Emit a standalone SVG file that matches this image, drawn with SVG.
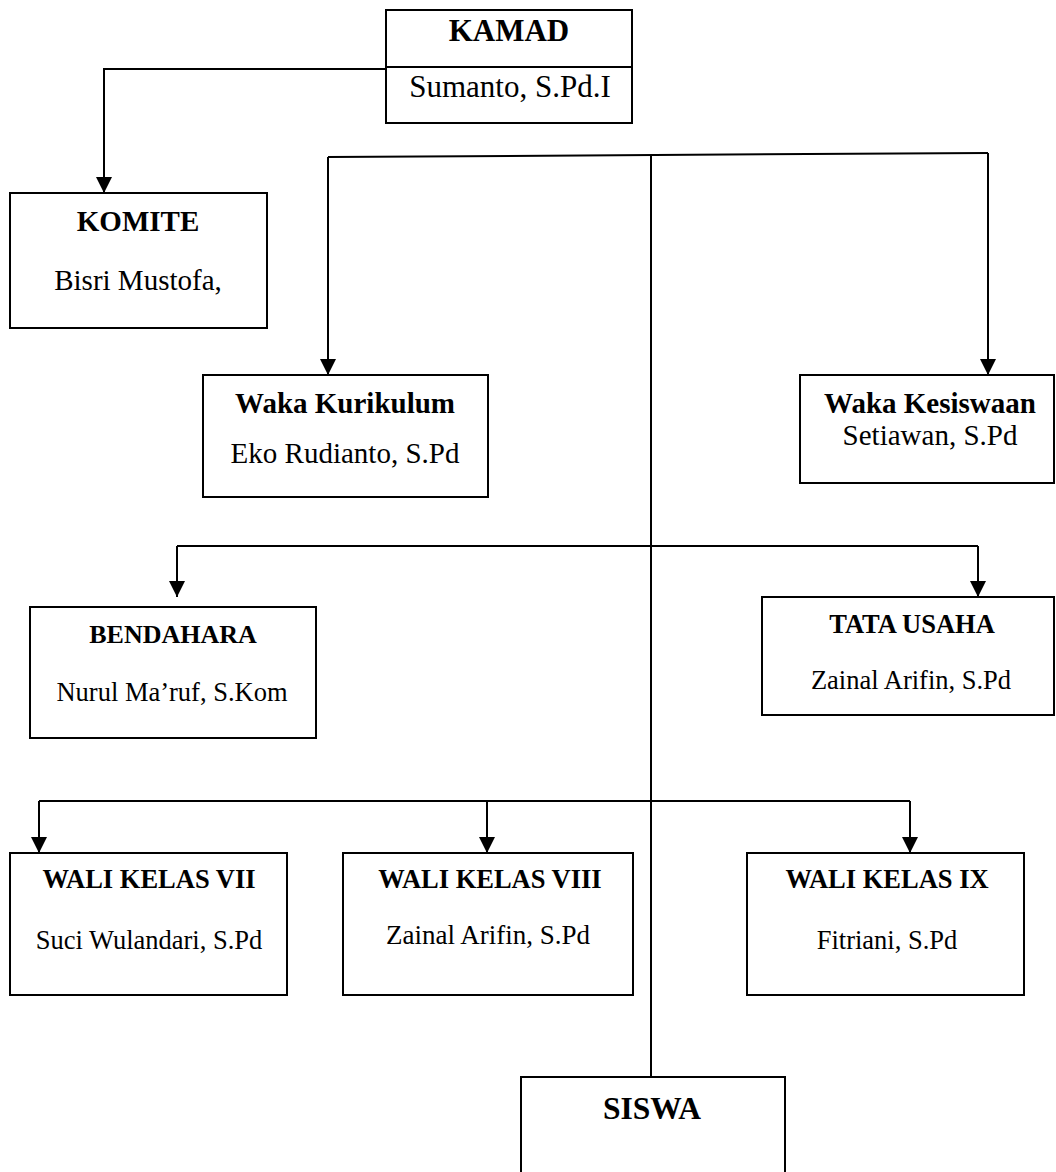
<svg xmlns="http://www.w3.org/2000/svg" width="1056" height="1172" viewBox="0 0 1056 1172">
<style>
.box{fill:#fff;stroke:#000;stroke-width:2}
.ln{fill:none;stroke:#000;stroke-width:2}
.t{font-family:"Liberation Serif","Times New Roman",serif;fill:#000;text-anchor:middle}
.b{font-weight:bold}
</style>
<defs>
<marker id="arr" markerUnits="userSpaceOnUse" markerWidth="16" markerHeight="16" viewBox="0 0 16 16" refX="16" refY="8" orient="auto">
<path d="M0,0 L16,8 L0,16 z" fill="#000"/>
</marker>
</defs>
<rect width="1056" height="1172" fill="#fff"/>
<g id="connectors">
<polyline class="ln" points="386,69 104,69 104,193" marker-end="url(#arr)"/>
<line class="ln" x1="328" y1="157" x2="988" y2="153"/>
<line class="ln" x1="328" y1="157" x2="328" y2="375" marker-end="url(#arr)"/>
<line class="ln" x1="988" y1="153" x2="988" y2="375" marker-end="url(#arr)"/>
<line class="ln" x1="651" y1="156" x2="651" y2="1077"/>
<line class="ln" x1="177" y1="546" x2="978" y2="546"/>
<line class="ln" x1="177" y1="546" x2="177" y2="597" marker-end="url(#arr)"/>
<line class="ln" x1="978" y1="546" x2="978" y2="597" marker-end="url(#arr)"/>
<line class="ln" x1="39" y1="801" x2="910" y2="801"/>
<line class="ln" x1="39" y1="801" x2="39" y2="853" marker-end="url(#arr)"/>
<line class="ln" x1="487" y1="801" x2="487" y2="853" marker-end="url(#arr)"/>
<line class="ln" x1="910" y1="801" x2="910" y2="853" marker-end="url(#arr)"/>
</g>
<g id="kamad">
<rect class="box" x="386" y="10" width="246" height="113"/>
<line class="ln" x1="386" y1="67" x2="632" y2="67"/>
<text class="t b" x="509" y="41" font-size="31">KAMAD</text>
<text class="t" x="510" y="97" font-size="31">Sumanto, S.Pd.I</text>
</g>
<g id="komite">
<rect class="box" x="10" y="193" width="257" height="135"/>
<text class="t b" x="138" y="231" font-size="29">KOMITE</text>
<text class="t" x="138" y="290" font-size="29">Bisri Mustofa,</text>
</g>
<g id="waka-kurikulum">
<rect class="box" x="203" y="375" width="285" height="122"/>
<text class="t b" x="345" y="413" font-size="29">Waka Kurikulum</text>
<text class="t" x="345" y="463" font-size="29">Eko Rudianto, S.Pd</text>
</g>
<g id="waka-kesiswaan">
<rect class="box" x="800" y="375" width="254" height="108"/>
<text class="t b" x="930" y="413" font-size="29">Waka Kesiswaan</text>
<text class="t" x="930" y="445" font-size="29">Setiawan, S.Pd</text>
</g>
<g id="bendahara">
<rect class="box" x="30" y="607" width="286" height="131"/>
<text class="t b" x="173" y="643" font-size="26">BENDAHARA</text>
<text class="t" x="172" y="701" font-size="26.5">Nurul Ma’ruf, S.Kom</text>
</g>
<g id="tata-usaha">
<rect class="box" x="762" y="597" width="292" height="118"/>
<text class="t b" x="912" y="633" font-size="26.5">TATA USAHA</text>
<text class="t" x="911" y="689" font-size="26.5">Zainal Arifin, S.Pd</text>
</g>
<g id="wali-vii">
<rect class="box" x="10" y="853" width="277" height="142"/>
<text class="t b" x="149" y="888" font-size="26.5">WALI KELAS VII</text>
<text class="t" x="149" y="949" font-size="26.5">Suci Wulandari, S.Pd</text>
</g>
<g id="wali-viii">
<rect class="box" x="343" y="853" width="290" height="142"/>
<text class="t b" x="490" y="888" font-size="26.5">WALI KELAS VIII</text>
<text class="t" x="488" y="944" font-size="27">Zainal Arifin, S.Pd</text>
</g>
<g id="wali-ix">
<rect class="box" x="747" y="853" width="277" height="142"/>
<text class="t b" x="887" y="888" font-size="26.5">WALI KELAS IX</text>
<text class="t" x="887" y="949" font-size="26.5">Fitriani, S.Pd</text>
</g>
<g id="siswa">
<rect class="box" x="521" y="1077" width="264" height="110"/>
<text class="t b" x="652" y="1119" font-size="31.5">SISWA</text>
</g>
</svg>
